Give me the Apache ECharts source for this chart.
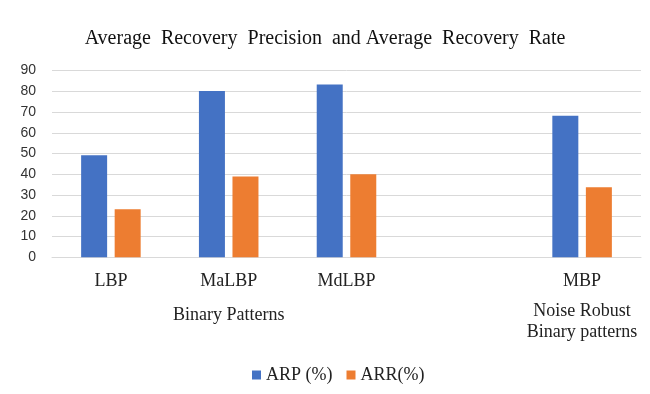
<!DOCTYPE html>
<html>
<head>
<meta charset="utf-8">
<script src="https://cdn.jsdelivr.net/npm/echarts@6/dist/echarts.min.js"></script>
<style>html,body{margin:0;padding:0;background:#fff;}#c{width:650px;height:394px;}</style>
</head>
<body>
<div id="c"></div>
<script>
const categories = ['LBP', 'MaLBP', 'MdLBP', '', 'MBP'];
const groupLabels = ['', 'Binary Patterns', '', '', 'Noise Robust\nBinary patterns'];
const arp = [49.2, 80.1, 83.3, null, 68.2];
const arr = [23.2, 38.9, 40.0, null, 33.8];
const yTicks = [0, 10, 20, 30, 40, 50, 60, 70, 80, 90];

const serif = "'Liberation Serif', 'Times New Roman', serif";
const chart = echarts.init(document.getElementById('c'));
chart.setOption({
  animation: false,
  backgroundColor: '#fff',
  title: {
    text: 'Average  Recovery  Precision  and Average  Recovery  Rate',
    left: 'center',
    top: 24,
    textStyle: { fontFamily: serif, fontSize: 20, fontWeight: 'normal', color: '#111' }
  },
  legend: {
    left: 247,
    top: 361,
    icon: 'rect',
    itemWidth: 9,
    itemHeight: 9,
    itemGap: 14,
    textStyle: { fontFamily: serif, fontSize: 18, color: '#222' },
    data: ['ARP (%)', 'ARR(%)']
  },
  grid: { left: 52, right: 9, top: 70.5, bottom: 136.7, containLabel: false },
  xAxis: [
    {
      type: 'category',
      data: categories,
      axisLine: { lineStyle: { color: '#d9d9d9', width: 1 } },
      axisTick: { show: false },
      axisLabel: { interval: 0, margin: 15, fontFamily: serif, fontSize: 18, color: '#222' }
    },
    {
      type: 'category',
      position: 'bottom',
      data: groupLabels,
      axisLine: { show: false },
      axisTick: { show: false },
      axisLabel: {
        interval: 0,
        margin: 43.5,
        lineHeight: 21,
        fontFamily: serif,
        fontSize: 18,
        color: '#222',
        formatter: function (v) {
          if (!v) return '';
          return v.indexOf('\n') >= 0 ? v.split('\n').map(s => '{b|' + s + '}').join('\n') : '{a|' + v + '}';
        },
        rich: {
          a: { fontFamily: serif, fontSize: 18, color: '#222', lineHeight: 21, padding: [8, 0, 0, 0] },
          b: { fontFamily: serif, fontSize: 18, color: '#222', lineHeight: 21 }
        }
      }
    }
  ],
  yAxis: {
    type: 'value',
    min: 0,
    max: yTicks[yTicks.length - 1],
    interval: 10,
    axisLine: { show: false },
    axisTick: { show: false },
    splitLine: { lineStyle: { color: '#d9d9d9', width: 1 } },
    axisLabel: { margin: 16, fontFamily: "'Liberation Sans', Arial, sans-serif", fontSize: 14, color: '#333' }
  },
  series: [
    {
      name: 'ARP (%)',
      type: 'bar',
      data: arp,
      barWidth: 26,
      barGap: '29%',
      itemStyle: { color: '#4472C4' }
    },
    {
      name: 'ARR(%)',
      type: 'bar',
      data: arr,
      barWidth: 26,
      itemStyle: { color: '#ED7D31' }
    }
  ]
});
</script>
</body>
</html>
